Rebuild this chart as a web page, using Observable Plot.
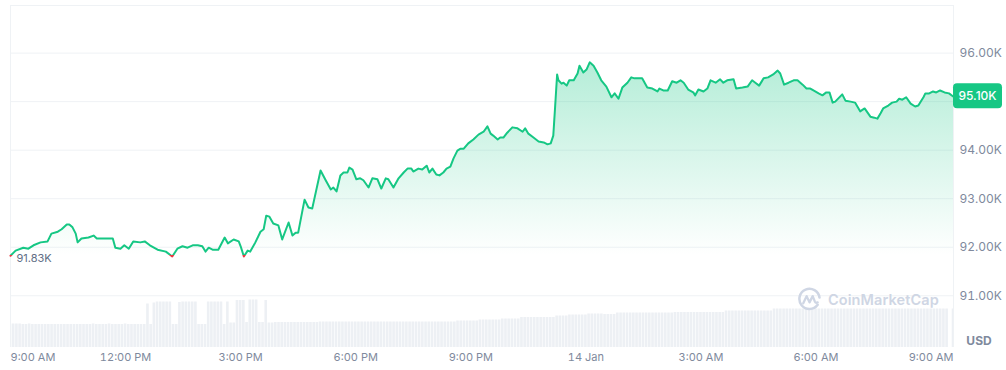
<!DOCTYPE html>
<html><head><meta charset="utf-8">
<script src="https://cdn.jsdelivr.net/npm/d3@7"></script>
<script src="https://cdn.jsdelivr.net/npm/@observablehq/plot@0.6"></script>
<style>
html,body{margin:0;padding:0;background:#fff;}
#wrap{position:relative;width:1006px;height:370px;font-family:Inter,"Noto Sans",sans-serif;overflow:hidden;}
#wm{position:absolute;left:797px;top:287px;display:flex;align-items:center;gap:6px;color:#cfd6e4;font:600 14.5px Inter,sans-serif;letter-spacing:0.1px;}
</style></head><body><div id="wrap"></div>
<script>
// ---- data ----
const minutesFromStart = [
  0,8,20,28,36,47,58,64,74,80,
  88,92,97,102,105,111,122,130,135,146,
  160,164,172,178,185,192,203,210,218,230,
  243,253,261,269,277,285,293,300,305,310,
  316,325,335,340,349,357,360,365,371,375,
  383,391,396,400,405,411,419,425,435,441,
  446,450,457,460,466,472,485,493,501,505,
  510,516,521,527,530,535,541,547,552,560,
  566,574,580,587,591,599,607,615,621,627,
  630,638,644,651,655,660,666,671,677,682,
  688,693,699,704,709,716,724,732,740,746,
  751,755,762,766,771,777,785,793,801,805,
  810,818,826,834,840,845,849,852,855,857,
  862,865,870,874,881,887,890,896,901,906,
  912,918,924,932,940,945,951,957,965,971,
  976,982,988,996,1004,1012,1015,1021,1028,1035,
  1042,1048,1053,1060,1068,1071,1076,1084,1090,1095,
  1103,1110,1115,1121,1131,1135,1145,1153,1160,1165,
  1171,1178,1185,1193,1200,1204,1210,1217,1225,1231,
  1239,1245,1251,1256,1264,1270,1276,1281,1286,1290,
  1301,1306,1314,1321,1329,1336,1345,1351,1356,1361,
  1365,1373,1379,1386,1390,1395,1401,1408,1415,1420,
  1428,1431,1437,1443,1448,1454,1461,1468,1475
];
const prices = [
  91825,91930,91990,91970,92040,92100,92120,92280,92320,92370,
  92470,92470,92410,92280,92100,92180,92200,92240,92180,92180,
  92180,91990,91970,92040,91970,92120,92100,92120,92040,91950,
  91910,91810,91970,92020,91990,92040,92040,92020,91910,91990,
  91950,91950,92200,92080,92160,92120,92020,91810,91930,91910,
  92100,92320,92370,92650,92630,92490,92450,92160,92510,92240,
  92300,92300,92780,92980,92820,92800,93580,93380,93190,93230,
  93150,93480,93540,93540,93640,93600,93400,93420,93380,93230,
  93420,93400,93210,93420,93400,93230,93420,93540,93620,93620,
  93560,93620,93600,93680,93540,93620,93500,93480,93540,93620,
  93660,93830,93990,94030,94030,94140,94220,94320,94380,94490,
  94340,94300,94220,94260,94260,94360,94470,94450,94380,94450,
  94340,94260,94180,94160,94120,94140,94300,94920,95560,95440,
  95370,95390,95330,95440,95440,95580,95740,95600,95660,95810,
  95740,95600,95440,95310,95090,95170,95060,95290,95390,95500,
  95480,95480,95480,95290,95270,95210,95270,95230,95230,95420,
  95390,95440,95390,95250,95190,95130,95250,95210,95270,95440,
  95390,95460,95390,95440,95460,95270,95290,95310,95440,95390,
  95330,95480,95500,95560,95640,95580,95350,95390,95440,95440,
  95350,95270,95270,95230,95170,95130,95190,95190,94980,95000,
  95150,95020,95000,94980,94800,94860,94690,94670,94650,94760,
  94860,94920,94980,95000,95060,95040,95090,94960,94900,94920,
  95090,95170,95170,95210,95190,95230,95190,95170,95100
];
const baselinePrice = 91830;
// 24h volume (billions USD), one value per 5-minute bar
const volumeStepMinutes = 5;
const volume = [
  47,47,47,47,46,46,47,46,46,46,46,46,
  46,46,46,46,46,46,46,46,46,46,46,46,
  46,46,47,46,46,46,46,47,46,46,46,46,
  47,46,46,46,46,46,46,87,46,89,91,91,
  91,91,91,46,46,90,91,91,91,91,91,46,
  46,46,91,91,91,91,91,46,91,49,49,94,
  94,94,50,95,95,95,50,50,94,49,49,50,
  50,50,50,50,50,50,50,50,50,50,50,50,
  50,51,51,51,51,51,51,51,51,51,51,51,
  51,51,51,51,51,51,51,51,51,51,51,51,
  51,51,51,51,51,51,51,51,51,51,51,51,
  51,51,51,51,51,51,51,51,53,53,53,53,
  53,53,53,55,55,55,55,55,55,55,57,57,
  57,57,57,57,60,60,60,60,60,60,60,60,
  60,60,60,63,63,63,63,65,65,65,65,65,
  65,67,67,67,67,67,66,66,66,66,69,69,
  69,69,69,69,69,69,69,69,69,69,69,69,
  69,69,69,69,70,70,70,70,70,70,70,70,
  70,70,70,70,70,70,70,70,73,73,73,73,
  73,73,73,73,73,73,73,73,73,73,73,77,
  77,77,77,77,77,77,77,77,77,77,77,77,
  77,77,77,77,77,77,77,77,77,77,77,77,
  77,77,77,77,77,77,77,77,77,77,77,77,
  77,77,77,77,77,77,77,77,77,77,77,77,
  77,77,77,77,77,77,0,77
];
const yTicks = [91000, 92000, 93000, 94000, 95000, 96000];
// 95.00K sits under the current-price badge in the original, so it has no visible label
const yLabelTicks = [91000, 92000, 93000, 94000, 96000];
const yTickLabels = ["91.00K", "92.00K", "93.00K", "94.00K", "96.00K"];
const xTickHours = [0, 3, 6, 9, 12, 15, 18, 21, 24];
const xTickLabels = ["9:00 AM", "12:00 PM", "3:00 PM", "6:00 PM", "9:00 PM", "14 Jan", "3:00 AM", "6:00 AM", "9:00 AM"];
const currency = "USD";

// ---- build ----
const W = 1006, H = 370, ML = 10, MR = 53, MT = 5, MB = 23;
const GREEN = "#16c784", RED = "#ea3943", GRID = "#eff2f5", TXT = "#808a9d";
const t0 = Date.UTC(2025, 0, 13, 9, 0);
const toDate = m => new Date(t0 + m * 60000);
const rows = minutesFromStart.map((m, i) => ({t: toDate(m), p: prices[i]}));
const xDomain = [toDate(0), toDate(minutesFromStart[minutesFromStart.length - 1])];
const xTicks = xTickHours.map(h => toDate(h * 60));
const volRows = volume.map((v, i) => ({t: toDate(i * volumeStepMinutes), v})).filter(d => d.v > 0);
const fmtK = v => (v / 1000).toFixed(2) + "K";
const half = volumeStepMinutes * 30000;

const pick = (args) => ({
  scales: args.find(a => a && typeof a.y === "function"),
  dims: args.find(a => a && a.width !== undefined && a.marginTop !== undefined)
});

function defsMark(...args) {
  const {scales, dims} = pick(args);
  const yb = scales.y(baselinePrice), yt = scales.y(d3.max(prices)), ybot = dims.height - dims.marginBottom;
  const defs = d3.create("svg:defs");
  const lg = defs.append("linearGradient").attr("id", "lineGrad").attr("gradientUnits", "userSpaceOnUse")
    .attr("x1", 0).attr("x2", 0).attr("y1", 0).attr("y2", dims.height);
  const f = yb / dims.height;
  lg.append("stop").attr("offset", f).attr("stop-color", GREEN);
  lg.append("stop").attr("offset", f).attr("stop-color", RED);
  const ag = defs.append("linearGradient").attr("id", "areaGrad").attr("gradientUnits", "userSpaceOnUse")
    .attr("x1", 0).attr("x2", 0).attr("y1", yt).attr("y2", ybot);
  const fa = (yb - yt) / (ybot - yt);
  ag.append("stop").attr("offset", 0).attr("stop-color", GREEN).attr("stop-opacity", 0.32);
  ag.append("stop").attr("offset", fa).attr("stop-color", GREEN).attr("stop-opacity", 0.0);
  ag.append("stop").attr("offset", fa).attr("stop-color", RED).attr("stop-opacity", 0.0);
  ag.append("stop").attr("offset", 1).attr("stop-color", RED).attr("stop-opacity", 0.3);
  return defs.node();
}

function badgeMark(...args) {
  const {scales, dims} = pick(args);
  const last = prices[prices.length - 1];
  const y = scales.y(last);
  const x0 = dims.width - dims.marginRight;
  const g = d3.create("svg:g");
  g.append("rect").attr("x", x0).attr("y", y - 13).attr("width", 49).attr("height", 25).attr("rx", 4).attr("fill", GREEN);
  g.append("text").attr("x", x0 + 24.5).attr("y", y - 0.5).attr("text-anchor", "middle").attr("dominant-baseline", "central")
    .attr("fill", "#fff").attr("font-size", 12).attr("font-weight", 500).attr("font-family", "Inter").text(fmtK(last));
  return g.node();
}

const volPlot = Plot.plot({
  width: W, height: H, marginLeft: ML, marginRight: MR, marginTop: 287, marginBottom: MB,
  style: {position: "absolute", left: "0px", top: "0px", background: "transparent"},
  x: {type: "utc", domain: xDomain, axis: null},
  y: {domain: [0, 120], axis: null},
  marks: [
    Plot.rectY(volRows, {x1: d => new Date(+d.t - half), x2: d => new Date(+d.t + half), y: "v", fill: "#edf0f4", insetLeft: 0.3, insetRight: 0.3, clip: true})
  ]
});

const pricePlot = Plot.plot({
  width: W, height: H, marginLeft: ML, marginRight: MR, marginTop: MT, marginBottom: MB,
  style: {position: "absolute", left: "0px", top: "0px", background: "transparent", fontFamily: "Inter", overflow: "visible"},
  x: {type: "utc", domain: xDomain},
  y: {domain: [89934, 96981]},
  marks: [
    defsMark,
    Plot.gridY(yTicks, {stroke: GRID, strokeOpacity: 1}),
    Plot.ruleY([96981], {stroke: GRID}),
    Plot.ruleX(xDomain, {stroke: GRID}),
    Plot.areaY(rows, {x: "t", y1: () => baselinePrice, y2: "p", fill: "url(#areaGrad)"}),
    Plot.line(rows, {x: "t", y: "p", stroke: "url(#lineGrad)", strokeWidth: 2, strokeLinejoin: "round", strokeLinecap: "round"}),
    Plot.text([baselinePrice], {x: () => xDomain[0], y: d => d, text: d => fmtK(d), dx: 6, dy: 3, textAnchor: "start", fill: "#616e85", fontSize: 11}),
    Plot.axisY(yLabelTicks, {anchor: "right", tickSize: 0, tickPadding: 6, tickFormat: d => yTickLabels[yLabelTicks.indexOf(d)], fill: TXT, fontSize: 12, label: null}),
    Plot.axisX([xTicks[0]], {anchor: "bottom", tickSize: 0, tickPadding: 6, tickFormat: () => xTickLabels[0], textAnchor: "start", fill: TXT, fontSize: 11, label: null}),
    Plot.axisX(xTicks.slice(1), {anchor: "bottom", tickSize: 0, tickPadding: 6, tickFormat: d => xTickLabels[xTicks.findIndex(t => +t === +d)], fill: TXT, fontSize: 11, label: null}),
    badgeMark,
    Plot.text([currency], {frameAnchor: "bottom-right", dx: 25.5, dy: -3, text: d => d, textAnchor: "middle", fill: TXT, fontWeight: "bold", fontSize: 12})
  ]
});

const wrap = document.getElementById("wrap");
wrap.appendChild(volPlot);
wrap.appendChild(pricePlot);
const wm = document.createElement("div");
wm.id = "wm";
wm.innerHTML = '<svg width="25" height="25" viewBox="0 0 26 26"><path d="M21.5 18.5 A10.5 10.5 0 1 1 23.4 11" fill="none" stroke="#cfd6e4" stroke-width="2.6" stroke-linecap="round"/><path d="M6.5 17 L10 9.5 L13 16 L16.3 9.5 L18.5 15 Q19.5 17 21.5 16" fill="none" stroke="#cfd6e4" stroke-width="2.4" stroke-linecap="round" stroke-linejoin="round"/></svg><span>CoinMarketCap</span>';
wrap.appendChild(wm);
</script>
</body></html>
